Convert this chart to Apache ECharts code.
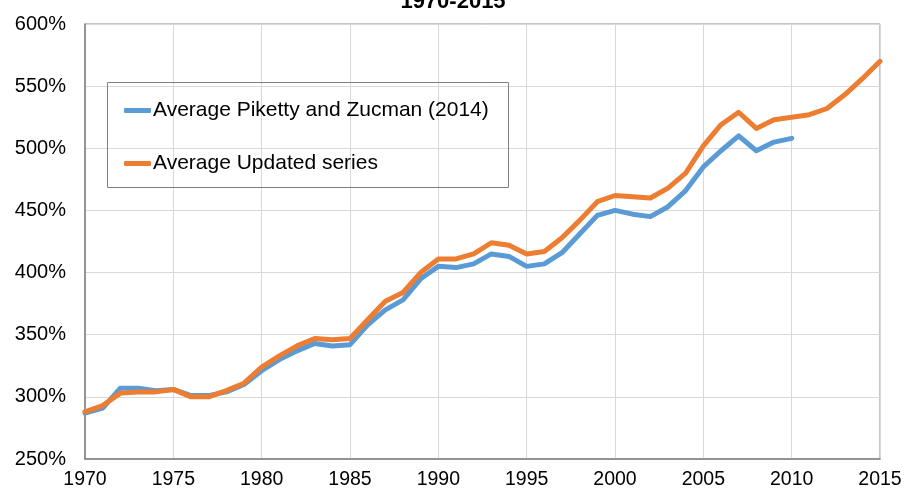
<!DOCTYPE html>
<html>
<head>
<meta charset="utf-8">
<script src="https://cdn.jsdelivr.net/npm/echarts@6/dist/echarts.min.js"></script>
<style>
  html, body { margin: 0; padding: 0; background: #fff; }
  #chart { width: 906px; height: 491px; }
</style>
</head>
<body>
<div id="chart"></div>
<script>
// Years on the x axis
const years = [1970,1971,1972,1973,1974,1975,1976,1977,1978,1979,
               1980,1981,1982,1983,1984,1985,1986,1987,1988,1989,
               1990,1991,1992,1993,1994,1995,1996,1997,1998,1999,
               2000,2001,2002,2003,2004,2005,2006,2007,2008,2009,
               2010,2011,2012,2013,2014,2015];

// Average wealth-income ratio, Piketty and Zucman (2014), in %
const pikettyZucman = [287,291,307,307,305,306,301,301,304,310,
                       321,330,337,343,341,342,358,370,378,395,
                       405,404,407,415,413,405,407,416,431,446,
                       450,447,445,453,466,485,498,510,498,505,
                       508];

// Average updated series, in %
const updatedSeries = [288,293,303,304,304,306,300,300,305,311,
                       324,333,341,347,346,347,362,377,384,400,
                       411,411,415,424,422,415,417,428,442,457,
                       462,461,460,468,480,502,519,529,516,523,
                       525,527,532,543,556,570];

const seriesNames = ['Average Piketty and Zucman (2014)', 'Average Updated series'];
const titleText = '1970-2015';

const toPairs = vals => vals.map((v, i) => [years[i], v]);

const font = 'Liberation Sans, Arial, sans-serif';
const chart = echarts.init(document.getElementById('chart'));

chart.setOption({
  animation: false,
  backgroundColor: '#ffffff',
  title: {
    text: titleText,
    left: 'center',
    top: -14,
    textStyle: { fontFamily: font, fontSize: 22, fontWeight: 'bold', color: '#000' }
  },
  grid: {
    left: 85, right: 26, top: 24, bottom: 32,
    show: true, borderColor: '#8c8c8c', borderWidth: 1
  },
  legend: {
    orient: 'vertical',
    left: 119,
    top: 95,
    itemGap: 32,
    itemWidth: 27,
    itemHeight: 5,
    icon: 'roundRect',
    textStyle: { fontFamily: font, fontSize: 21, color: '#000', padding: [0, 0, 0, -3] },
    data: seriesNames
  },
  graphic: [{
    type: 'rect',
    shape: { x: 107.5, y: 82.5, width: 401, height: 105 },
    style: { fill: 'rgba(255,255,255,0)', stroke: '#808080', lineWidth: 1 },
    z: 100
  }],
  xAxis: {
    type: 'value',
    min: 1970, max: 2015, interval: 5,
    axisLine: { show: true, lineStyle: { color: '#808080', width: 1.5 } },
    axisTick: { show: false },
    splitLine: { show: true, lineStyle: { color: '#d9d9d9', width: 1 } },
    axisLabel: {
      fontFamily: font, fontSize: 19.5, color: '#000', margin: 11,
      formatter: v => String(v)
    }
  },
  yAxis: {
    type: 'value',
    min: 250, max: 600, interval: 50,
    axisLine: { show: true, lineStyle: { color: '#808080', width: 1.5 } },
    axisTick: { show: false },
    splitLine: { show: true, lineStyle: { color: '#d9d9d9', width: 1 } },
    axisLabel: {
      fontFamily: font, fontSize: 20, color: '#000', margin: 19,
      formatter: v => v + '%'
    }
  },
  series: [
    {
      name: seriesNames[0],
      type: 'line',
      data: toPairs(pikettyZucman),
      showSymbol: false,
      color: '#5b9bd5',
      lineStyle: { width: 5, color: '#5b9bd5', cap: 'round', join: 'round' },
      z: 2
    },
    {
      name: seriesNames[1],
      type: 'line',
      data: toPairs(updatedSeries),
      showSymbol: false,
      color: '#ed7d31',
      lineStyle: { width: 5, color: '#ed7d31', cap: 'round', join: 'round' },
      z: 3
    }
  ]
});
</script>
</body>
</html>
